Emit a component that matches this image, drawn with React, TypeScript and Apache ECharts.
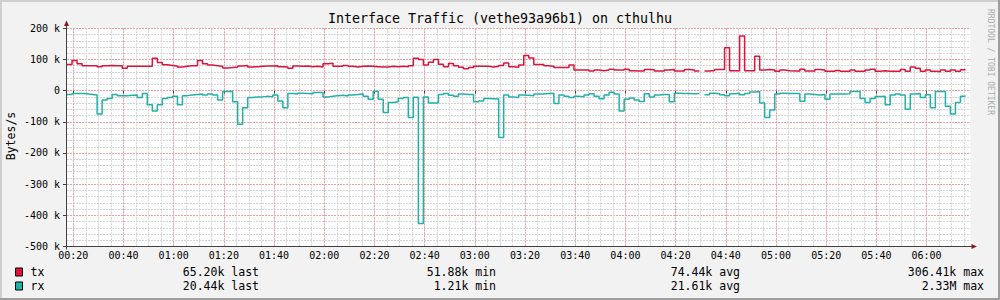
import React, { useEffect, useRef } from 'react';
import * as echarts from 'echarts';

// ---- texts ----
const chartTitle = 'Interface Traffic (vethe93a96b1) on cthulhu';
const yAxisName = 'Bytes/s';
const watermark = 'RRDTOOL / TOBI OETIKER';

// ---- time axis (minutes after 00:00) ----
const startMinute = 17.5;
const endMinute = 377.5;
const stepMinutes = 2;

// ---- value axis (k bytes/s) ----
const yMin = -500;
const yMax = 200;
const yInterval = 100;

// ---- series values, k bytes/s, one value per 2-minute step (null = no data) ----
const txValues: (number | null)[] = [
  84, 97, 86, 80, 80, 80, 77, 80, 81, 80,
  80, 72, 78, 78, 78, 78, 78, 104, 90, 83,
  81, 79, 76, 78, 80, 80, 97, 86, 82, 80,
  78, 73, 74, 76, 79, 81, 76, 77, 78, 79,
  79, 80, 77, 76, 72, 79, 78, 79, 77, 78,
  76, 86, 88, 78, 78, 81, 78, 76, 78, 79,
  78, 77, 76, 76, 78, 77, 78, 77, 80, 104,
  100, 82, 91, 100, 85, 77, 87, 80, 75, 70,
  74, 78, 78, 78, 76, 78, 81, 89, 77, 75,
  82, 113, 105, 84, 84, 80, 78, 74, 74, 74,
  82, 66, 66, 66, 63, 66, 64, 66, 69, 66,
  66, 69, 64, 63, 63, 68, 67, 63, 63, 66,
  68, 63, 63, 68, 66, 63, null, 63, 65, 68,
  68, 138, 64, 64, 175, 64, 64, 110, 66, 68,
  66, 62, 66, 64, 63, 63, 69, 63, 63, 68,
  66, 62, 62, 65, 62, 62, 66, 62, 62, 66,
  69, 62, 64, 62, 62, 62, 68, 62, 76, 72,
  62, 66, 62, 61, 66, 62, 66, 62, 67, null,
];

const rxValues: (number | null)[] = [
  -12, -9, -9, -10, -12, -14, -75, -30, -25, -12,
  -16, -16, -15, -14, -22, -9, -45, -65, -45, -25,
  -22, -18, -45, -16, -14, -12, -11, -14, -11, -14,
  -30, -3, -2, -36, -108, -55, -22, -20, -20, -18,
  -20, -14, -33, -55, -9, -11, -8, -9, -10, -6,
  -6, -20, -18, -16, -15, -17, -14, -12, -10, -18,
  -28, -2, -28, -70, -38, -36, -25, -22, -86, -21,
  -426, -20, -40, -40, -12, -9, -15, -18, -11, -12,
  -12, -36, -33, -25, -26, -27, -150, -14, -20, -22,
  -14, -15, -16, -11, -11, -9, -8, -41, -14, -18,
  -22, -18, -20, -14, -10, -18, -26, -14, -5, -11,
  -65, -28, -24, -30, -35, -10, -20, -14, -12, -12,
  -36, -8, -9, -9, -10, -9, null, -13, -8, -10,
  -13, -16, -10, -8, -13, -9, -4, -3, -40, -86,
  -62, -11, -8, -9, -9, -9, -34, -11, -12, -14,
  -12, -28, -11, -11, -11, -10, -3, -3, -25, -38,
  -25, -19, -18, -45, -14, -11, -14, -60, -11, -9,
  -22, -13, -55, -3, -3, -50, -75, -38, -18, null,
];

// ---- legend ----
const seriesNames = ['tx', 'rx'];
const seriesColors = ['#DC143C', '#20B2AA'];
const lastValues = ['65.20k', '20.44k'];
const minValues = ['51.88k', '1.21k'];
const avgValues = ['74.44k', '21.61k'];
const maxValues = ['306.41k', '2.33M'];

const FONT = "'DejaVu Sans Mono', monospace";

function stairs(values: (number | null)[]) {
  const pts: any[] = [];
  values.forEach((v, i) => {
    const a = startMinute + i * stepMinutes;
    const b = a + stepMinutes;
    if (v == null) {
      pts.push([a, '-']);
    } else {
      pts.push([a, v], [b, v]);
    }
  });
  return pts;
}

function pad(n: number) {
  return n < 10 ? '0' + n : String(n);
}

export default function App() {
  const ref = useRef<HTMLDivElement>(null);

  useEffect(() => {
    if (!ref.current) return;
    const chart = echarts.init(ref.current, undefined, { renderer: 'svg' });

    const gridLeft = 67;
    const gridTop = 28.3;
    const gridRight = 29.5;
    const gridBottom = 53.5;
    const axisY = 300 - gridBottom;

    const legendGraphics: any[] = [];
    seriesNames.forEach((name, i) => {
      const cy = 272 + i * 14;
      legendGraphics.push(
        {
          type: 'rect',
          z: 20,
          shape: { x: 15.5, y: cy - 4, width: 7, height: 8 },
          style: { fill: seriesColors[i], stroke: '#000', lineWidth: 1 },
        },
        {
          type: 'text', z: 20, x: 30.5, y: cy,
          style: { text: name, fontFamily: FONT, fontSize: 11.5, fill: '#000', align: 'left', verticalAlign: 'middle' },
        },
        {
          type: 'text', z: 20, x: 259, y: cy,
          style: { text: lastValues[i] + ' last', fontFamily: FONT, fontSize: 11.5, fill: '#000', align: 'right', verticalAlign: 'middle' },
        },
        {
          type: 'text', z: 20, x: 496, y: cy,
          style: { text: minValues[i] + ' min', fontFamily: FONT, fontSize: 11.5, fill: '#000', align: 'right', verticalAlign: 'middle' },
        },
        {
          type: 'text', z: 20, x: 740, y: cy,
          style: { text: avgValues[i] + ' avg', fontFamily: FONT, fontSize: 11.5, fill: '#000', align: 'right', verticalAlign: 'middle' },
        },
        {
          type: 'text', z: 20, x: 984, y: cy,
          style: { text: maxValues[i] + ' max', fontFamily: FONT, fontSize: 11.5, fill: '#000', align: 'right', verticalAlign: 'middle' },
        }
      );
    });

    const option: any = {
      animation: false,
      backgroundColor: '#F2F2F2',
      title: {
        text: chartTitle,
        left: 'center',
        top: 12,
        padding: 0,
        textStyle: { fontFamily: FONT, fontSize: 13.3, fontWeight: 'normal', color: '#000' },
      },
      grid: {
        left: gridLeft,
        top: gridTop,
        right: gridRight,
        bottom: gridBottom,
        show: true,
        backgroundColor: '#FFFFFF',
        borderWidth: 0,
      },
      xAxis: [
        {
          type: 'value',
          min: startMinute,
          max: endMinute,
          splitNumber: 18,
          z: 2,
          axisLine: { show: false },
          axisTick: { show: true, length: 3, lineStyle: { color: '#404040' } },
          axisLabel: {
            show: true,
            margin: 4,
            showMinLabel: false,
            showMaxLabel: false,
            fontFamily: FONT,
            fontSize: 10,
            color: '#000',
            formatter: (v: number) => pad(Math.floor(v / 60)) + ':' + pad(Math.round(v % 60)),
          },
          splitLine: {
            show: true,
            showMinLine: false,
            showMaxLine: false,
            lineStyle: { color: '#F0A0A0', type: [2, 1], width: 1 },
          },
        },
        {
          type: 'value',
          min: startMinute,
          max: endMinute,
          splitNumber: 72,
          position: 'bottom',
          z: 1,
          axisLine: { show: false },
          axisTick: { show: false },
          axisLabel: { show: false },
          splitLine: {
            show: true,
            showMinLine: false,
            showMaxLine: false,
            lineStyle: { color: '#D4D4D4', type: [2, 1], width: 1 },
          },
        },
      ],
      yAxis: {
        type: 'value',
        min: yMin,
        max: yMax,
        interval: yInterval,
        axisLine: { show: false },
        axisTick: { show: true, length: 4, lineStyle: { color: '#404040' } },
        axisLabel: {
          margin: 7,
          fontFamily: FONT,
          fontSize: 10,
          color: '#000',
          formatter: (v: number) => (v === 0 ? '0' : v + ' k'),
        },
        splitLine: { show: true, lineStyle: { color: '#F0A0A0', type: [2, 1], width: 1 } },
        minorTick: { show: false, splitNumber: 5 },
        minorSplitLine: { show: true, lineStyle: { color: '#D4D4D4', type: [2, 1], width: 1 } },
      },
      series: [
        {
          type: 'line',
          name: seriesNames[0],
          xAxisIndex: 0,
          data: stairs(txValues),
          showSymbol: false,
          symbol: 'none',
          connectNulls: false,
          silent: true,
          z: 3,
          lineStyle: { color: seriesColors[0], width: 1.5 },
          itemStyle: { color: seriesColors[0] },
        },
        {
          type: 'line',
          name: seriesNames[1],
          xAxisIndex: 0,
          data: stairs(rxValues),
          showSymbol: false,
          symbol: 'none',
          connectNulls: false,
          silent: true,
          z: 3,
          lineStyle: { color: seriesColors[1], width: 1.5 },
          itemStyle: { color: seriesColors[1] },
        },
      ],
      graphic: [
        // frame
        { type: 'rect', z: 30, shape: { x: 0, y: 0, width: 1000, height: 2 }, style: { fill: '#CFCFCF' } },
        { type: 'rect', z: 30, shape: { x: 0, y: 0, width: 2, height: 300 }, style: { fill: '#CFCFCF' } },
        { type: 'rect', z: 31, shape: { x: 0, y: 298, width: 1000, height: 2 }, style: { fill: '#9E9E9E' } },
        { type: 'rect', z: 31, shape: { x: 998, y: 0, width: 2, height: 300 }, style: { fill: '#9E9E9E' } },
        // axes
        { type: 'line', z: 10, shape: { x1: 66.5, y1: axisY + 3, x2: 66.5, y2: 24 }, style: { stroke: '#404040', lineWidth: 1 } },
        { type: 'line', z: 10, shape: { x1: 63, y1: axisY, x2: 972, y2: axisY }, style: { stroke: '#404040', lineWidth: 1 } },
        { type: 'polygon', z: 11, shape: { points: [[64, 26], [69, 26], [66.5, 20.5]] }, style: { fill: '#8B1A1A' } },
        { type: 'polygon', z: 11, shape: { points: [[971.5, axisY - 2.5], [971.5, axisY + 2.5], [977, axisY]] }, style: { fill: '#8B1A1A' } },
        // unit label
        {
          type: 'text', z: 20, x: 11, y: 136, rotation: Math.PI / 2,
          style: { text: yAxisName, fontFamily: FONT, fontSize: 11.5, fill: '#000', align: 'center', verticalAlign: 'middle' },
        },
        // watermark
        {
          type: 'text', z: 20, x: 990.5, y: 62, rotation: -Math.PI / 2,
          style: { text: watermark, fontFamily: FONT, fontSize: 8, fill: '#AAAAAA', align: 'center', verticalAlign: 'middle' },
        },
        ...legendGraphics,
      ],
    };

    chart.setOption(option);
    return () => {
      chart.dispose();
    };
  }, []);

  return (
    <div
      ref={ref}
      style={{ position: 'absolute', left: 0, top: 0, width: 1000, height: 300 }}
    />
  );
}
